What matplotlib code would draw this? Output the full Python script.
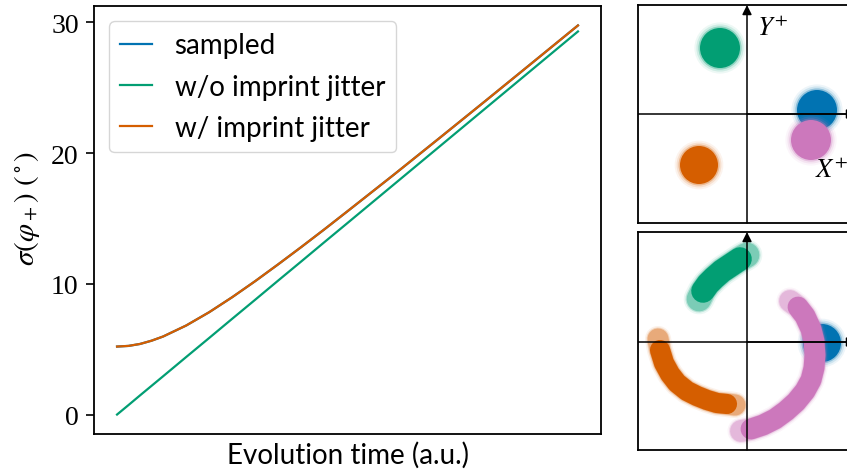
import numpy as np
import matplotlib
matplotlib.use("Agg")
from matplotlib import pyplot as plt
from matplotlib.patches import Circle

plt.rcParams['font.family'] = ['Lato', 'DejaVu Sans']
plt.rcParams['mathtext.fontset'] = 'stix'

# phase spread vs. evolution time (arbitrary units)
t_axis = [0.0, 0.025, 0.05, 0.075, 0.1, 0.15, 0.2, 0.25, 0.3, 0.35, 0.4,
          0.45, 0.5, 0.6, 0.7, 0.8, 0.9, 1.0]
sig_sampled = [5.2, 5.25, 5.40, 5.65, 5.97, 6.81, 7.83, 8.98, 10.21, 11.50,
               12.82, 14.17, 15.55, 18.33, 21.16, 24.01, 26.88, 29.76]
sig_no_jitter = [0.0, 0.73, 1.47, 2.20, 2.93, 4.40, 5.86, 7.33, 8.79, 10.26,
                 11.72, 13.19, 14.65, 17.58, 20.51, 23.44, 26.37, 29.30]
sig_jitter = [5.2, 5.25, 5.40, 5.65, 5.97, 6.81, 7.83, 8.98, 10.21, 11.50,
              12.82, 14.17, 15.55, 18.33, 21.16, 24.01, 26.88, 29.76]
yticks = [0, 10, 20, 30]

c_blue, c_green, c_orange, c_pink = "#0173b2", "#029e73", "#d55e00", "#cc78bc"

# top inset: clouds of states (x, y, radius)
top_clouds = {
    c_green:  (-0.27, 0.66, 0.20),
    c_orange: (-0.48, -0.51, 0.19),
    c_blue:   (0.70, 0.04, 0.20),
    c_pink:   (0.64, -0.26, 0.20),
}
# bottom inset: blue stays a cloud, the others smear into arcs
bot_blue = (0.75, -0.01, 0.19)
arc_green_x = [-0.48, -0.44, -0.39, -0.33, -0.25, -0.16, -0.07, 0.0]
arc_green_y = [0.43, 0.51, 0.58, 0.64, 0.71, 0.77, 0.83, 0.87]
arc_orange_x = [-0.89, -0.87, -0.83, -0.77, -0.70, -0.60, -0.50, -0.40, -0.30, -0.20, -0.12]
arc_orange_y = [0.03, -0.08, -0.21, -0.32, -0.41, -0.49, -0.54, -0.58, -0.61, -0.62, -0.63]
arc_pink_x = [0.43, 0.51, 0.58, 0.64, 0.67, 0.68, 0.67, 0.64, 0.58, 0.49, 0.39,
              0.28, 0.16, 0.04, -0.06]
arc_pink_y = [0.41, 0.35, 0.26, 0.13, 0.01, -0.13, -0.26, -0.38, -0.49, -0.60,
              -0.69, -0.77, -0.83, -0.87, -0.89]

fig = plt.figure(figsize=(8.47, 4.77), dpi=100)
ax = fig.add_axes([94/847, 42/477, 507/847, 428/477])
ax.plot(t_axis, sig_sampled, color=c_blue, lw=1.6, label="sampled")
ax.plot(t_axis, sig_no_jitter, color=c_green, lw=1.6, label="w/o imprint jitter")
ax.plot(t_axis, sig_jitter, color=c_orange, lw=1.6, label="w/ imprint jitter")
ax.set_xticks([])
ax.set_yticks(yticks)
ax.set_yticklabels([str(v) for v in yticks], family="Liberation Serif", fontsize=20)
ax.tick_params(axis="y", length=6, width=1.2, pad=5)
for s in ax.spines.values():
    s.set_linewidth(1.3)
ax.set_xlabel("Evolution time (a.u.)", fontsize=20, labelpad=5)
ax.set_ylabel(r"$\sigma(\varphi_+)\ (^\circ)$", fontsize=21)
ax.yaxis.set_label_coords(-0.102, 0.53)
ax.legend(loc="upper left", fontsize=20, handlelength=1.15, handletextpad=0.8,
          borderpad=0.4, labelspacing=0.55, borderaxespad=0.55, framealpha=0.8)


def inset(rect, ylim):
    a = fig.add_axes(rect)
    a.set_xlim(-1.09, 1.09)
    a.set_ylim(*ylim)
    a.set_aspect("equal", adjustable="box", anchor="W")
    a.set_xticks([])
    a.set_yticks([])
    for s in a.spines.values():
        s.set_linewidth(1.3)
    a.axhline(0, color="k", lw=1.1, zorder=5)
    a.annotate("", xy=(0, ylim[1]), xytext=(0, ylim[0]),
               arrowprops=dict(arrowstyle="-|>", color="k", lw=1.1,
                               mutation_scale=14, shrinkA=0, shrinkB=0), zorder=5)
    a.annotate("", xy=(1.09, 0), xytext=(0, 0),
               arrowprops=dict(arrowstyle="-|>", color="k", lw=1.1,
                               mutation_scale=14, shrinkA=0, shrinkB=0), zorder=5)
    return a


def cloud(a, x, y, r, col):
    for k, al in [(1.28, 0.07), (1.18, 0.13), (1.08, 0.3)]:
        a.add_patch(Circle((x, y), r * k, color=col, alpha=al, lw=0))
    a.add_patch(Circle((x, y), r, color=col, alpha=1.0, lw=0))


def arc(a, xs, ys, col, w):
    for k, al in [(1.3, 0.08), (1.15, 0.2), (1.05, 0.35)]:
        a.plot(xs, ys, color=col, lw=w * k, alpha=al, solid_capstyle="round")
    a.plot(xs[1:-1], ys[1:-1], color=col, lw=w, alpha=1.0, solid_capstyle="round")


top = inset([638/847, 253/477, 218/847, 218/477], (-1.09, 1.09))
for col in [c_green, c_orange, c_blue, c_pink]:
    cloud(top, *top_clouds[col], col)
top.text(0.10, 0.86, r"$Y^{+}$", fontsize=19, va="center", ha="left")
top.text(0.68, -0.56, r"$X^{+}$", fontsize=19, va="center", ha="left")

bot = inset([638/847, 26/477, 218/847, 218/477], (-1.08, 1.10))
cloud(bot, *bot_blue, c_blue)
arc(bot, arc_green_x, arc_green_y, c_green, 17)
arc(bot, arc_orange_x, arc_orange_y, c_orange, 14.5)
arc(bot, arc_pink_x, arc_pink_y, c_pink, 15)

fig.savefig("out.png", dpi=100)
